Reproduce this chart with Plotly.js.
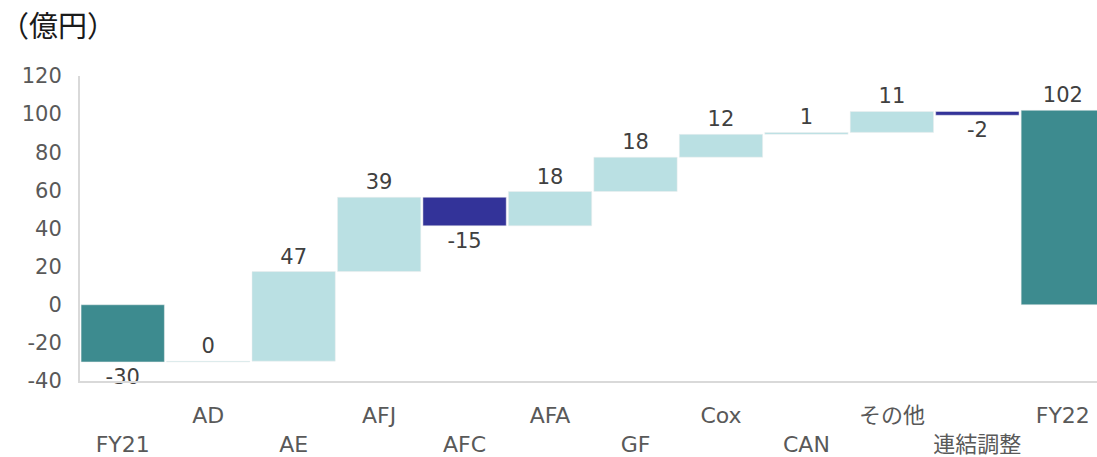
<!DOCTYPE html>
<html>
<head>
<meta charset="utf-8">
<script src="https://cdn.plot.ly/plotly-3.0.1.min.js"></script>
<style>html,body{margin:0;padding:0;background:#fff;}#chart{width:1097px;height:457px;}</style>
</head>
<body>
<div id="chart"></div>
<script>
var categories = ["FY21","AD","AE","AFJ","AFC","AFA","GF","Cox","CAN","その他","連結調整","FY22"];
var values = [-30, 0.4, 47, 39, -15, 18, 18, 12, 1, 11, -2, 102];
var measures = ["absolute","relative","relative","relative","relative","relative","relative","relative","relative","relative","relative","absolute"];
var yTicks = [-40, -20, 0, 20, 40, 60, 80, 100, 120];

// alternate category labels on two rows
var tickLabels = categories.map(function(c, i){ return i % 2 === 0 ? "<br>" + c : c; });

var trace = {
  type: "waterfall",
  x: categories,
  y: values,
  measure: measures,
  text: values.map(function(v){ return String(Math.round(v)); }),
  texttemplate: "%{text}",
  textposition: "outside",
  cliponaxis: false,
  textfont: {family: "DejaVu Sans, Verdana, sans-serif", size: 21, color: "#404040"},
  connector: {visible: false},
  increasing: {marker: {color: "#BAE0E3", line: {color: "#eeeeee", width: 0.5}}},
  decreasing: {marker: {color: "#333399", line: {color: "#eeeeee", width: 0.5}}},
  totals: {marker: {color: "#3D8B8F", line: {color: "#eeeeee", width: 0.5}}},
  hoverinfo: "none"
};

var layout = {
  width: 1097, height: 457,
  margin: {l: 80, r: 0, t: 76, b: 76},
  paper_bgcolor: "#ffffff",
  plot_bgcolor: "#ffffff",
  showlegend: false,
  waterfallgap: 0.025,
  font: {family: "DejaVu Sans, Verdana, 'Noto Sans CJK JP', sans-serif", color: "#595959"},
  title: {
    text: "（億円）",
    font: {family: "'Noto Sans CJK JP', sans-serif", size: 29, color: "#1a1a1a"},
    xref: "container", yref: "container",
    x: 0.0, xanchor: "left",
    y: 1 - 27/457, yanchor: "middle"
  },
  xaxis: {
    type: "category",
    range: [-0.5, 11.4],
    tickmode: "array",
    tickvals: categories,
    ticktext: tickLabels,
    ticks: "",
    showgrid: false,
    zeroline: false,
    showline: true,
    linecolor: "#D9D9D9",
    linewidth: 2,
    tickfont: {family: "DejaVu Sans, Verdana, 'Noto Sans CJK JP', sans-serif", size: 22, color: "#595959"},
    ticklabelstandoff: 14,
    fixedrange: true
  },
  yaxis: {
    range: [-40, 120],
    tickmode: "array",
    tickvals: yTicks,
    ticktext: yTicks.map(String),
    ticks: "",
    showgrid: false,
    zeroline: false,
    showline: true,
    linecolor: "#D9D9D9",
    linewidth: 2,
    tickfont: {family: "DejaVu Sans, Verdana, sans-serif", size: 21, color: "#595959"},
    ticklabelstandoff: 12,
    fixedrange: true
  }
};

Plotly.newPlot("chart", [trace], layout, {displayModeBar: false, staticPlot: true});
</script>
</body>
</html>
